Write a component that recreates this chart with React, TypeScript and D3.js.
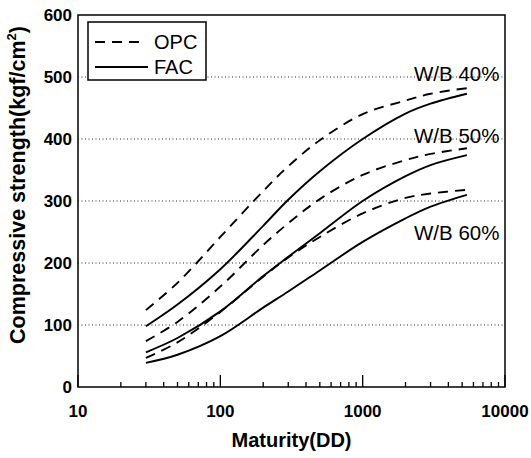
import React from "react";
import * as d3 from "d3";

const maturity = [30, 50, 100, 200, 300, 500, 1000, 2000, 3000, 5400];
const opc40 = [124, 168, 242, 316, 356, 398, 440, 462, 473, 482];
const fac40 = [98, 133, 190, 260, 302, 348, 400, 441, 457, 473];
const opc50 = [74, 105, 162, 229, 264, 303, 342, 366, 376, 385];
const fac50 = [56, 79, 122, 179, 210, 248, 300, 340, 358, 374];
const opc60 = [47, 72, 121, 178, 209, 242, 280, 305, 312, 318];
const fac60 = [39, 52, 82, 128, 154, 188, 234, 272, 291, 310];

const xMajor = [10, 100, 1000, 10000];
const yTicks = [0, 100, 200, 300, 400, 500, 600];
const gridValues = [100, 200, 300, 400, 500];

const groupLabels = ["W/B 40%", "W/B 50%", "W/B 60%"];
const legendNames = ["OPC", "FAC"];

const series = [
  { name: "OPC", values: opc40, dashed: true },
  { name: "FAC", values: fac40, dashed: false },
  { name: "OPC", values: opc50, dashed: true },
  { name: "FAC", values: fac50, dashed: false },
  { name: "OPC", values: opc60, dashed: true },
  { name: "FAC", values: fac60, dashed: false },
];

const W = 531;
const H = 458;
const left = 78;
const right = 505;
const top = 15;
const bottom = 387;

const font = "'Liberation Sans', Arial, Helvetica, sans-serif";

export default function App() {
  const x = d3.scaleLog().domain([10, 10000]).range([left, right]);
  const y = d3.scaleLinear().domain([0, 600]).range([bottom, top]);
  const line = d3
    .line<[number, number]>()
    .x((d) => x(d[0]))
    .y((d) => y(d[1]))
    .curve(d3.curveCatmullRom.alpha(0.5));

  const minorTicks: number[] = [];
  for (let dec = 10; dec < 10000; dec *= 10) {
    for (let k = 2; k <= 9; k++) minorTicks.push(dec * k);
  }

  return (
    <svg
      width={W}
      height={H}
      style={{ position: "absolute", left: 0, top: 0, background: "#fff" }}
      fontFamily={font}
    >
      <rect x={0} y={0} width={W} height={H} fill="#fff" />
      {gridValues.map((v) => (
        <line
          key={"g" + v}
          x1={left}
          x2={right}
          y1={y(v)}
          y2={y(v)}
          stroke="#222"
          strokeWidth={1}
          strokeDasharray="1,2.5"
        />
      ))}
      {series.map((s, i) => (
        <path
          key={"s" + i}
          d={line(maturity.map((m, j) => [m, s.values[j]] as [number, number])) || ""}
          fill="none"
          stroke="#000"
          strokeWidth={1.9}
          strokeDasharray={s.dashed ? "10,7" : undefined}
        />
      ))}
      {minorTicks.map((t) => (
        <line
          key={"mt" + t}
          x1={x(t)}
          x2={x(t)}
          y1={bottom}
          y2={bottom - 5}
          stroke="#000"
          strokeWidth={1.3}
        />
      ))}
      {xMajor.map((t) => (
        <line
          key={"Mt" + t}
          x1={x(t)}
          x2={x(t)}
          y1={bottom}
          y2={bottom - 12}
          stroke="#000"
          strokeWidth={1.3}
        />
      ))}
      <rect
        x={left}
        y={top}
        width={right - left}
        height={bottom - top}
        fill="none"
        stroke="#000"
        strokeWidth={1.5}
      />
      {xMajor.map((t) => (
        <text
          key={"xl" + t}
          x={x(t)}
          y={417}
          textAnchor="middle"
          fontSize={17}
          fontWeight="bold"
        >
          {t}
        </text>
      ))}
      {yTicks.map((t) => (
        <text
          key={"yl" + t}
          x={72}
          y={y(t) + 6}
          textAnchor="end"
          fontSize={17}
          fontWeight="bold"
        >
          {t}
        </text>
      ))}
      <text x={(left + right) / 2} y={447} textAnchor="middle" fontSize={20} fontWeight="bold">
        Maturity(DD)
      </text>
      <text
        transform="translate(25,185) rotate(-90)"
        textAnchor="middle"
        fontSize={21.5}
        fontWeight="bold"
      >
        Compressive strength(kgf/cm
        <tspan fontSize={13} dy={-9}>
          2
        </tspan>
        <tspan dy={9}>)</tspan>
      </text>
      {groupLabels.map((g, i) => (
        <text key={"wb" + i} x={414} y={[81, 143, 240][i]} fontSize={20.5}>
          {g}
        </text>
      ))}
      <rect x={88} y={22} width={118} height={58} fill="#fff" stroke="#000" strokeWidth={1.5} />
      <line x1={95} x2={140} y1={42} y2={42} stroke="#000" strokeWidth={1.9} strokeDasharray="10,7" />
      <line x1={95} x2={148} y1={67} y2={67} stroke="#000" strokeWidth={1.9} />
      <text x={154} y={49} fontSize={20}>
        {legendNames[0]}
      </text>
      <text x={154} y={74} fontSize={20}>
        {legendNames[1]}
      </text>
    </svg>
  );
}
